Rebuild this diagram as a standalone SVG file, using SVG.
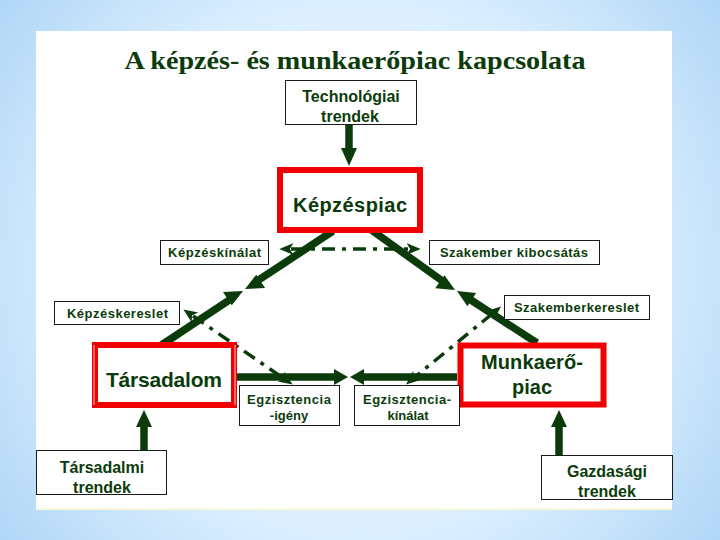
<svg xmlns="http://www.w3.org/2000/svg" width="720" height="540" viewBox="0 0 720 540">
<defs>
<radialGradient id="bg" cx="360" cy="270" r="480" gradientUnits="userSpaceOnUse">
<stop offset="0" stop-color="#f4faff"/>
<stop offset="0.55" stop-color="#dcefff"/>
<stop offset="1" stop-color="#a9d3f5"/>
</radialGradient>
<marker id="sm" markerWidth="14" markerHeight="14" refX="2" refY="5" orient="auto-start-reverse" markerUnits="userSpaceOnUse" viewBox="0 0 12 10">
<path d="M0,0 L12,5 L0,10 L3,5 Z" fill="#0b3b0b"/>
</marker>
<style>
.t{font-family:"Liberation Sans",Arial,sans-serif;font-weight:bold;fill:#0b3b0b;text-anchor:middle}
.box{fill:#fff;stroke:#1a1a1a;stroke-width:1}
.red{fill:#fff;stroke:#f00000;stroke-width:6}
.shaft{stroke:#0b3b0b;stroke-width:7.5;fill:none}
.head{fill:#0b3b0b}
.dd{stroke:#0b3b0b;stroke-width:3.5;fill:none;stroke-dasharray:13 7 4 7}
</style>
</defs>
<rect x="0" y="0" width="720" height="540" fill="url(#bg)"/>
<rect x="36" y="31" width="636" height="478" fill="#ffffff"/>
<line x1="36" y1="509" x2="672" y2="509" stroke="#fbf8dc" stroke-width="2"/>
<text x="355" y="69" font-family="'Liberation Serif','Times New Roman',serif" font-weight="bold" font-size="25" fill="#0b3b0b" text-anchor="middle" textLength="461" lengthAdjust="spacingAndGlyphs">A képzés- és munkaerőpiac kapcsolata</text>

<g id="connectors">
<!-- dash-dot double arrows -->
<line class="dd" x1="291" y1="249" x2="409" y2="249" marker-start="url(#sm)" marker-end="url(#sm)"/>
<line class="dd" x1="193" y1="316" x2="283" y2="378" marker-start="url(#sm)" marker-end="url(#sm)"/>
<line class="dd" x1="492" y1="314" x2="415" y2="377" marker-start="url(#sm)" marker-end="url(#sm)"/>
<!-- Technológiai -> Képzéspiac -->
<line class="shaft" x1="349" y1="124" x2="349" y2="150"/>
<polygon class="head" points="341,148 357,148 349,166"/>
<!-- Képzéspiac -> mid-left -->
<line class="shaft" x1="333" y1="231" x2="255" y2="282.4"/>
<polygon class="head" points="245,289 256.3,274.7 265.1,288.1"/>
<!-- Társadalom -> mid-left -->
<line class="shaft" x1="160" y1="346" x2="233" y2="297.6"/>
<polygon class="head" points="243,291 231.8,305.2 223.0,291.9"/>
<!-- Képzéspiac -> mid-right -->
<line class="shaft" x1="370" y1="229" x2="445.2" y2="283"/>
<polygon class="head" points="455,290 435.2,288.3 444.5,275.3"/>
<!-- Munkaerőpiac -> mid-right -->
<line class="shaft" x1="537" y1="343" x2="467.1" y2="297.5"/>
<polygon class="head" points="457,291 476.1,292.9 467.4,306.3"/>
<!-- bottom horizontal -->
<line class="shaft" x1="237" y1="377" x2="336" y2="377"/>
<polygon class="head" points="348,377 334,369 334,385"/>
<line class="shaft" x1="457" y1="377" x2="362" y2="377"/>
<polygon class="head" points="350,377 364,369 364,385"/>
<!-- trends up arrows -->
<line class="shaft" x1="144" y1="450" x2="144" y2="425"/>
<polygon class="head" points="136,427 152,427 144,410"/>
<line class="shaft" x1="559" y1="455" x2="559" y2="425"/>
<polygon class="head" points="551,427 567,427 559,410"/>
</g>

<g id="technologiai">
<rect class="box" x="285.5" y="80.5" width="131" height="44"/>
<text class="t" x="351" y="102" font-size="16">Technológiai</text>
<text class="t" x="350" y="122" font-size="16">trendek</text>
</g>
<g id="kepzespiac">
<rect class="red" x="280" y="170" width="140" height="60"/>
<text class="t" x="350" y="212" font-size="20" textLength="114">Képzéspiac</text>
</g>
<g id="kepzeskinalat">
<rect class="box" x="160.5" y="240.5" width="108" height="24"/>
<text class="t" x="214.5" y="257" font-size="13" textLength="93">Képzéskínálat</text>
</g>
<g id="szakember-kibocsatas">
<rect class="box" x="429.5" y="240.5" width="170" height="24"/>
<text class="t" x="514" y="257" font-size="13" textLength="148" lengthAdjust="spacing">Szakember kibocsátás</text>
</g>
<g id="kepzeskereslet">
<rect class="box" x="54.5" y="301.5" width="125" height="23"/>
<text class="t" x="117.5" y="318" font-size="13" textLength="101">Képzéskereslet</text>
</g>
<g id="szakemberkereslet">
<rect class="box" x="504.5" y="295.5" width="145" height="24"/>
<text class="t" x="576.5" y="312" font-size="13" textLength="125" lengthAdjust="spacing">Szakemberkereslet</text>
</g>
<g id="tarsadalom">
<rect class="red" x="95" y="345" width="139" height="60"/>
<line x1="94" y1="345" x2="94" y2="405" stroke="#fff" stroke-width="0.8"/>
<line x1="235" y1="345" x2="235" y2="405" stroke="#fff" stroke-width="0.8"/>
<text class="t" x="164" y="387" font-size="21" textLength="116">Társadalom</text>
</g>
<g id="munkaeropiac">
<rect class="red" x="460.5" y="345.5" width="143" height="59" stroke-width="7"/>
<text class="t" x="532" y="369" font-size="20" textLength="102">Munkaerő-</text>
<text class="t" x="532" y="394" font-size="20">piac</text>
</g>
<g id="egzisztencia-igeny">
<rect class="box" x="239.5" y="385.5" width="100" height="40"/>
<text class="t" x="289" y="404" font-size="13" textLength="84">Egzisztencia</text>
<text class="t" x="289" y="420" font-size="13">-igény</text>
</g>
<g id="egzisztencia-kinalat">
<rect class="box" x="354.5" y="385.5" width="105" height="40"/>
<text class="t" x="407" y="404" font-size="13" textLength="88">Egzisztencia-</text>
<text class="t" x="408" y="420" font-size="13">kínálat</text>
</g>
<g id="tarsadalmi-trendek">
<rect class="box" x="36.5" y="450.5" width="130" height="44"/>
<text class="t" x="102" y="473" font-size="16">Társadalmi</text>
<text class="t" x="102" y="493" font-size="16">trendek</text>
</g>
<g id="gazdasagi-trendek">
<rect class="box" x="541.5" y="455.5" width="131" height="44"/>
<text class="t" x="607" y="477" font-size="16">Gazdasági</text>
<text class="t" x="607" y="497" font-size="16">trendek</text>
</g>
</svg>
